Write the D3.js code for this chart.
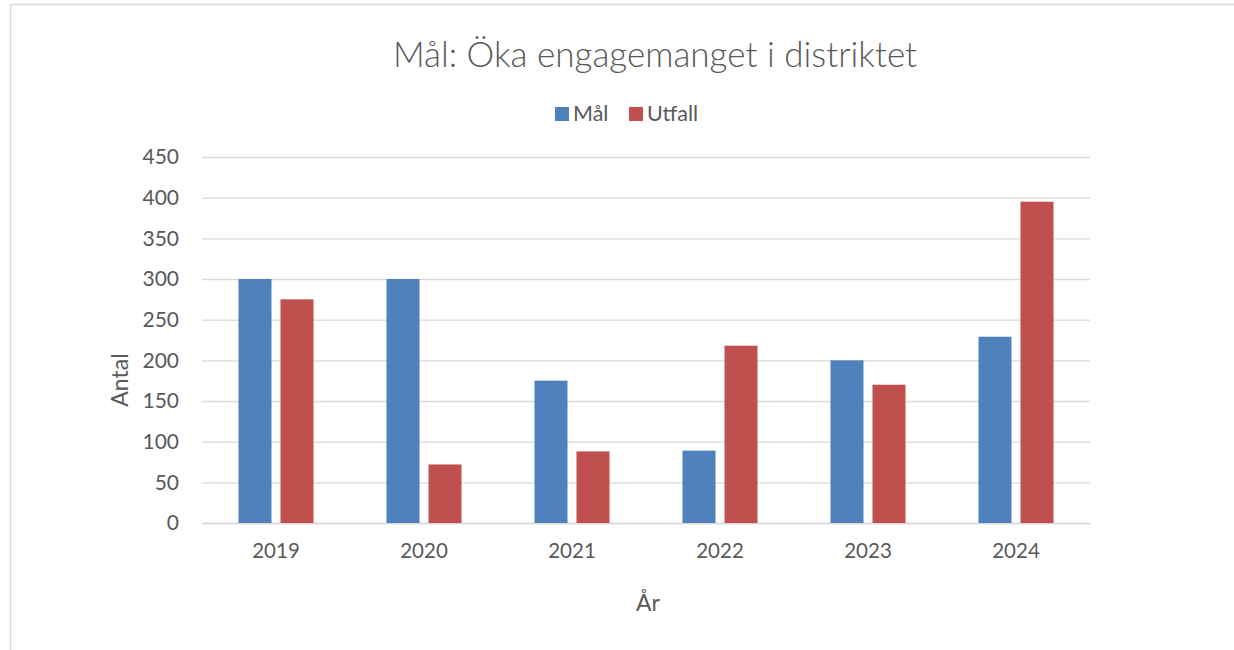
<!DOCTYPE html>
<html>
<head>
<meta charset="utf-8">
<script src="https://cdn.jsdelivr.net/npm/d3@7"></script>
<style>
  body { margin: 0; background: #fff; }
  text { font-family: Lato, "Open Sans", sans-serif; fill: #595959; }
</style>
</head>
<body>
<svg id="chart" width="1234" height="650"></svg>
<script>
// chart data
const years = ['2019', '2020', '2021', '2022', '2023', '2024'];
const seriesNames = ['Mål', 'Utfall'];
const malValues = [300, 300, 175, 89, 200, 229];
const utfallValues = [275, 72, 88, 218, 170, 395];
const yTicks = [0, 50, 100, 150, 200, 250, 300, 350, 400, 450];
const colors = ['#4F81BD', '#C0504D'];

const svg = d3.select('#chart');
const margin = { left: 202, right: 144, top: 157, bottom: 127 };
const width = 1234 - margin.left - margin.right;
const height = 650 - margin.top - margin.bottom;

// outer chart frame
svg.append('rect')
  .attr('x', 10.5).attr('y', 4.5)
  .attr('width', 1300).attr('height', 700)
  .attr('fill', 'none')
  .attr('stroke', '#d9d9d9')
  .attr('stroke-width', 1.5);

const g = svg.append('g')
  .attr('transform', `translate(${margin.left},${margin.top})`);

const x0 = d3.scaleBand().domain(years).range([0, width]).padding(0);
const x1 = d3.scaleBand().domain(seriesNames)
  .range([x0.bandwidth() * 0.2465, x0.bandwidth() * 0.7535])
  .paddingInner(0.214);
const y = d3.scaleLinear().domain([0, 450]).range([height, 0]);

// gridlines + y labels
const yAxis = g.append('g')
  .call(d3.axisLeft(y).tickValues(yTicks).tickSize(-width).tickPadding(23));
yAxis.select('.domain').remove();
yAxis.selectAll('.tick line').attr('stroke', '#d9d9d9').attr('stroke-width', 1.3);
yAxis.selectAll('.tick text').style('font-size', '21px').attr('fill', '#595959');

// x axis
const xAxis = g.append('g')
  .attr('transform', `translate(0,${height})`)
  .call(d3.axisBottom(x0).tickSize(0).tickPadding(20));
xAxis.select('.domain').attr('stroke', '#d9d9d9').attr('stroke-width', 1.3);
xAxis.selectAll('.tick text').style('font-size', '20.5px').attr('fill', '#595959');

const data = years.map((yr, i) => ({
  year: yr,
  values: [
    { name: seriesNames[0], value: malValues[i], color: colors[0] },
    { name: seriesNames[1], value: utfallValues[i], color: colors[1] },
  ],
}));

const groups = g.selectAll('.year')
  .data(data)
  .enter()
  .append('g')
  .attr('class', 'year')
  .attr('transform', d => `translate(${x0(d.year)},0)`);

groups.selectAll('rect')
  .data(d => d.values)
  .enter()
  .append('rect')
  .attr('x', d => x1(d.name))
  .attr('y', d => y(d.value))
  .attr('width', x1.bandwidth())
  .attr('height', d => height - y(d.value))
  .attr('fill', d => d.color);

// title
svg.append('text')
  .attr('x', 655).attr('y', 67)
  .attr('text-anchor', 'middle')
  .style('font-size', '35px')
  .style('font-weight', 300)
  .text('Mål: Öka engagemanget i distriktet');

// legend
const legend = svg.append('g').attr('transform', 'translate(555,107)');
const legendX = [0, 74];
seriesNames.forEach((name, i) => {
  legend.append('rect')
    .attr('x', legendX[i]).attr('y', 0)
    .attr('width', 14).attr('height', 14)
    .attr('fill', colors[i]);
  legend.append('text')
    .attr('x', legendX[i] + 18).attr('y', 14)
    .style('font-size', '21.5px')
    .text(name);
});

// axis titles
svg.append('text')
  .attr('transform', 'translate(128,380) rotate(-90)')
  .attr('text-anchor', 'middle')
  .style('font-size', '23px')
  .text('Antal');

svg.append('text')
  .attr('x', 648).attr('y', 611)
  .attr('text-anchor', 'middle')
  .style('font-size', '23px')
  .text('År');
</script>
</body>
</html>
